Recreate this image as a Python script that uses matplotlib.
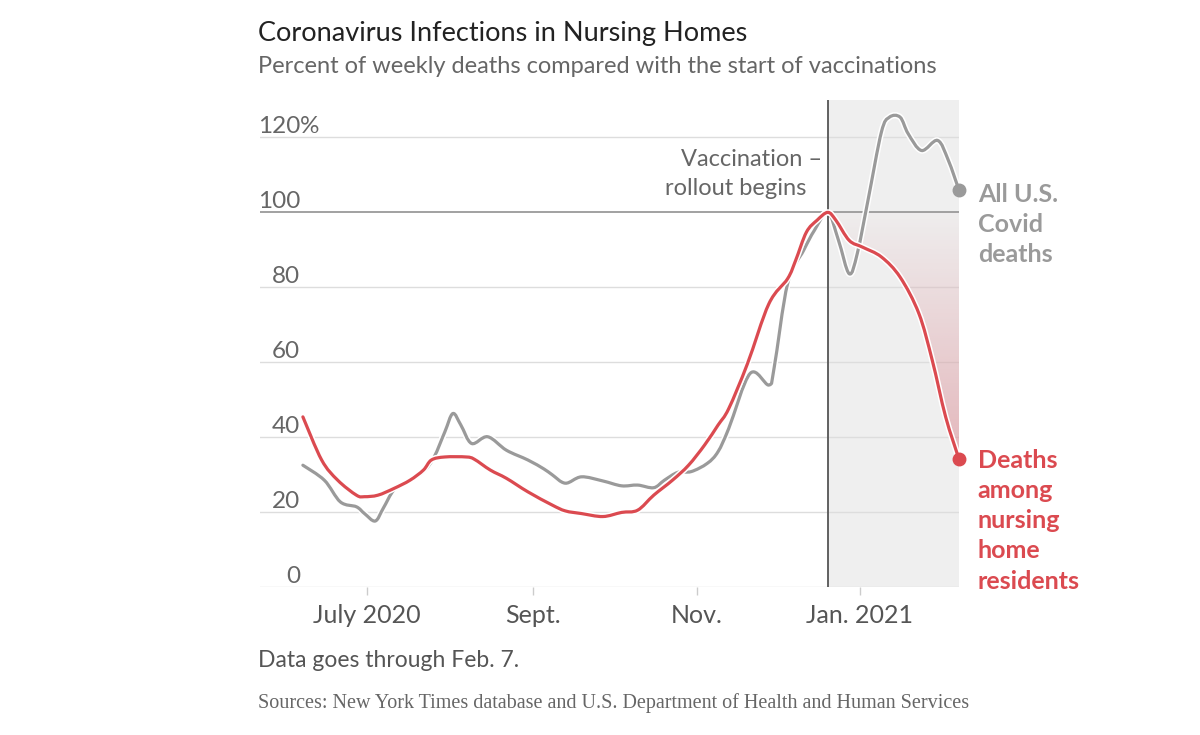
import numpy as np
import pandas as pd
import matplotlib
matplotlib.use("Agg")
import matplotlib.pyplot as plt
import matplotlib.dates as mdates
import matplotlib.patheffects as pe
from matplotlib.path import Path
from matplotlib.patches import PathPatch

plt.rcParams['font.family'] = ['Lato', 'DejaVu Sans']

# Nursing home residents' deaths, % of week of Dec. 20
red_dates = ["2020-06-07", "2020-06-14", "2020-06-20", "2020-06-27", "2020-06-30",
             "2020-07-05", "2020-07-11", "2020-07-17", "2020-07-22", "2020-07-25",
             "2020-07-30", "2020-08-07", "2020-08-10", "2020-08-16", "2020-08-22",
             "2020-08-30", "2020-09-08", "2020-09-13", "2020-09-19", "2020-09-27",
             "2020-10-04", "2020-10-10", "2020-10-16", "2020-10-23", "2020-10-29",
             "2020-11-04", "2020-11-09", "2020-11-13", "2020-11-20", "2020-11-28",
             "2020-12-05", "2020-12-08", "2020-12-12", "2020-12-16", "2020-12-20",
             "2020-12-23", "2020-12-28", "2021-01-02", "2021-01-09", "2021-01-16",
             "2021-01-23", "2021-01-28", "2021-02-02", "2021-02-07"]
red_vals = [45.4, 33.9, 28.5, 24.5, 24.1,
            24.5, 26.3, 28.5, 31.2, 33.9,
            34.7, 34.7, 34.1, 31.2, 29.0,
            25.4, 21.9, 20.3, 19.6, 18.8,
            19.9, 20.5, 24.5, 28.5, 32.5,
            37.9, 43.2, 47.6, 59.6, 75.6,
            82.3, 87.2, 94.7, 97.9, 100.0,
            97.9, 92.5, 90.7, 88.1, 82.7,
            73.0, 60.5, 45.4, 34.1]

# All U.S. Covid deaths, % of week of Dec. 20
gray_dates = ["2020-06-07", "2020-06-15", "2020-06-21", "2020-06-27", "2020-06-30",
              "2020-07-04", "2020-07-07", "2020-07-11", "2020-07-16", "2020-07-22",
              "2020-07-26", "2020-07-30", "2020-08-02", "2020-08-05", "2020-08-09",
              "2020-08-15", "2020-08-22", "2020-08-30", "2020-09-05", "2020-09-08",
              "2020-09-13", "2020-09-19", "2020-09-27", "2020-10-04", "2020-10-10",
              "2020-10-16", "2020-10-20", "2020-10-25", "2020-10-30", "2020-11-05",
              "2020-11-09", "2020-11-13", "2020-11-21", "2020-11-28", "2020-11-30",
              "2020-12-05", "2020-12-11", "2020-12-15", "2020-12-20", "2020-12-24",
              "2020-12-28", "2020-12-31", "2021-01-04", "2021-01-09", "2021-01-12",
              "2021-01-16", "2021-01-19", "2021-01-24", "2021-01-30", "2021-02-03",
              "2021-02-07"]
gray_vals = [32.5, 28.5, 22.7, 21.4, 19.6,
             17.6, 21.0, 25.9, 28.1, 30.8,
             34.7, 41.4, 46.3, 43.2, 38.3,
             40.1, 36.5, 33.9, 31.5, 30.0,
             27.7, 29.4, 28.3, 27.0, 27.2,
             26.5, 28.5, 30.6, 30.8, 33.0,
             36.1, 42.3, 57.0, 53.9, 58.7,
             81.0, 89.9, 95.2, 100.0, 92.5,
             83.6, 89.0, 103.2, 121.4, 125.4,
             125.4, 121.0, 116.5, 119.2, 113.9,
             105.9]

y_ticks = [0, 20, 40, 60, 80, 100, 120]
x_tick_dates = ["2020-07-01", "2020-09-01", "2020-11-01", "2021-01-01"]
x_tick_labels = ["July 2020", "Sept.", "Nov.", "Jan. 2021"]
vacc_date = "2020-12-20"
x_start, x_end = "2020-05-22", "2021-02-07"

RED = "#db4a50"
GRAY = "#9a9a9a"


def curve_path(x, y):
    # Catmull-Rom style cubic curve through the read points
    p = np.column_stack([x, y])
    n = len(p)
    verts = [p[0]]
    codes = [Path.MOVETO]
    for i in range(n - 1):
        a = p[i - 1] if i > 0 else p[i]
        d = p[i + 2] if i + 2 < n else p[i + 1]
        verts += [p[i] + (p[i + 1] - a) / 6, p[i + 1] - (d - p[i]) / 6, p[i + 1]]
        codes += [Path.CURVE4] * 3
    return verts, codes


rx = mdates.date2num(pd.to_datetime(red_dates))
gx = mdates.date2num(pd.to_datetime(gray_dates))
ry = np.array(red_vals)
gy = np.array(gray_vals)
vx = mdates.date2num(pd.Timestamp(vacc_date))
x0 = mdates.date2num(pd.Timestamp(x_start))
x1 = mdates.date2num(pd.Timestamp(x_end))

fig = plt.figure(figsize=(12, 7.35), dpi=100)
ax = fig.add_axes([0.2167, 0.2014, 0.5825, 0.6626])
for s in ax.spines.values():
    s.set_visible(False)

# shaded post-vaccination period
ax.axvspan(vx, x1, color="#efefef", zorder=0, lw=0)

# gridlines and y labels sitting above them
for t in y_ticks:
    if t == 100:
        ax.axhline(t, color="#9a9a9a", lw=1.3, zorder=1)
    else:
        ax.axhline(t, color="#dddddd", lw=1.0, zorder=1)
    ax.text(0.0572, t + 0.1, str(t), transform=ax.get_yaxis_transform(),
            ha="right", va="bottom", fontsize=17.5, color="#666666")
ax.text(0.0572, 120.1, "%", transform=ax.get_yaxis_transform(),
        ha="left", va="bottom", fontsize=17.5, color="#666666")

ax.axvline(vx, color="#555555", lw=1.3, zorder=4)

# gradient fill between red line and 100 after vaccination
mask = rx >= vx
fv, fc = curve_path(rx[mask], ry[mask])
fv += [(x1, 100), (vx, 100), (vx, 100)]
fc += [Path.LINETO, Path.LINETO, Path.CLOSEPOLY]
clip = PathPatch(Path(fv, fc), facecolor="none", edgecolor="none")
ax.add_patch(clip)
grad = np.zeros((100, 2, 4))
grad[..., :3] = matplotlib.colors.to_rgb("#d9838c")
grad[..., 3] = np.linspace(0.55, 0.02, 100)[:, None]
im = ax.imshow(grad, extent=[vx, x1, 30, 100], origin="lower", aspect="auto", zorder=2)
im.set_clip_path(clip)

for xs, ys, col, z in [(gx, gy, GRAY, 3), (rx, ry, RED, 5)]:
    v, c = curve_path(xs, ys)
    ax.add_patch(PathPatch(Path(v, c), facecolor="none", edgecolor=col, lw=2.3,
                           capstyle="round", joinstyle="round", zorder=z,
                           path_effects=[pe.Stroke(linewidth=4.5, foreground="white"),
                                         pe.Normal()]))
ax.plot([gx[-1]], [gy[-1]], "o", color=GRAY, ms=9, clip_on=False, zorder=6)
ax.plot([rx[-1]], [ry[-1]], "o", color=RED, ms=9, clip_on=False, zorder=6)

ax.set_xlim(x0, x1)
ax.set_ylim(0, 130)

# x ticks
ax.set_xticks(mdates.date2num(pd.to_datetime(x_tick_dates)))
ax.set_xticklabels(x_tick_labels, fontsize=18, color="#555555")
ax.tick_params(axis="x", length=6, width=1, color="#cccccc", pad=6)
ax.set_yticks([])

# annotations
ax.text(vx - 2, 114.0, "Vaccination \u2013", ha="right", va="center",
        fontsize=17, color="#666666")
ax.text(vx - 8, 106.3, "rollout begins", ha="right", va="center",
        fontsize=17, color="#666666")

ax.text(x1 + 7, gy[-1] + 2.0, "All U.S.\nCovid\ndeaths", ha="left", va="top",
        fontsize=18, fontweight="bold", color=GRAY, linespacing=1.38, clip_on=False)
ax.text(x1 + 7, ry[-1] + 2.8, "Deaths\namong\nnursing\nhome\nresidents", ha="left", va="top",
        fontsize=18, fontweight="bold", color=RED, linespacing=1.38, clip_on=False)

fig.text(0.215, 0.955, "Coronavirus Infections in Nursing Homes", fontsize=19.5,
         color="#222222", va="center")
fig.text(0.215, 0.910, "Percent of weekly deaths compared with the start of vaccinations",
         fontsize=17, color="#666666", va="center")
fig.text(0.215, 0.101, "Data goes through Feb. 7.", fontsize=16.5,
         color="#555555", va="center")
fig.text(0.215, 0.044, "Sources: New York Times database and U.S. Department of Health and Human Services",
         fontsize=14.5, family="Liberation Serif", color="#666666", va="center")

fig.savefig("out.png", dpi=100, facecolor="white")
